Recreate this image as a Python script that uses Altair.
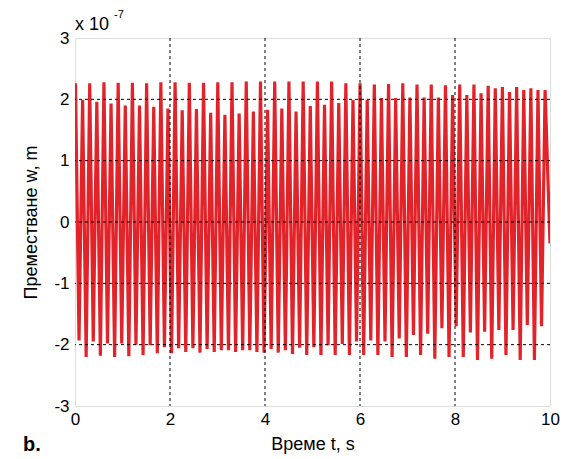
import altair as alt
import pandas as pd

# Displacement values, in units of 1e-7 m
T_START = 0.01          # s, time of the first peak
HALF_PERIOD = 0.0749    # s, spacing between successive peak and trough
START_VALUE = 2.1
PEAKS = [2.26, 1.99, 2.26, 1.96, 2.28, 1.93, 2.27, 1.90, 2.27, 1.90,
         2.26, 1.88, 2.28, 1.85, 2.28, 1.82, 2.27, 1.84, 2.27, 1.78,
         2.28, 1.75, 2.28, 1.77, 2.29, 1.80, 2.29, 1.83, 2.29, 1.85,
         2.29, 1.80, 2.29, 1.89, 2.29, 1.91, 2.29, 1.94, 2.26, 1.99,
         2.26, 1.99, 2.24, 2.02, 2.25, 2.02, 2.26, 2.03, 2.24, 2.03,
         2.24, 2.03, 2.23, 2.07, 2.24, 2.07, 2.24, 2.10, 2.22, 2.18,
         2.20, 2.12, 2.20, 2.15, 2.18, 2.15, 2.15]
TROUGHS = [-1.93, -2.20, -1.95, -2.18, -1.98, -2.20, -1.98, -2.19, -2.00, -2.17,
           -2.01, -2.14, -2.04, -2.14, -2.06, -2.12, -2.06, -2.13, -2.07, -2.12,
           -2.09, -2.09, -2.12, -2.09, -2.09, -2.12, -2.13, -2.07, -2.13, -2.09,
           -2.15, -2.05, -2.17, -2.04, -2.17, -2.01, -2.17, -1.99, -2.17, -1.95,
           -2.17, -1.93, -2.17, -1.95, -2.20, -1.90, -2.20, -1.84, -2.17, -1.82,
           -2.23, -1.73, -2.20, -1.70, -2.20, -1.80, -2.25, -1.79, -2.23, -1.76,
           -2.17, -1.76, -2.25, -1.68, -2.25, -1.70]
END_T = 10.0
END_VALUE = -0.35

X_TICKS = [0, 2, 4, 6, 8, 10]
Y_TICKS = [-3, -2, -1, 0, 1, 2, 3]
GRID_X = [2, 4, 6, 8]
GRID_Y = [-2, -1, 0, 1, 2]

rows = [{"t": 0.0, "w": START_VALUE}]
for k, p in enumerate(PEAKS):
    rows.append({"t": T_START + 2 * k * HALF_PERIOD, "w": p})
    if k < len(TROUGHS):
        rows.append({"t": T_START + (2 * k + 1) * HALF_PERIOD, "w": TROUGHS[k]})
rows.append({"t": END_T, "w": END_VALUE})
df = pd.DataFrame(rows)

FONT = "Liberation Sans"

xscale = alt.Scale(domain=[0, 10], nice=False, zero=False)
yscale = alt.Scale(domain=[-3, 3], nice=False, zero=False)

x_axis = alt.Axis(values=X_TICKS, labelExpr="toString(datum.value)", grid=False,
                  domain=False, ticks=False,
                  labelFontSize=17, labelColor="black", labelFont=FONT,
                  labelPadding=5, title="Време t, s", titleFont=FONT,
                  titleFontSize=18, titleFontWeight="normal", titleColor="black",
                  titlePadding=8, labelFlush=False)
y_axis = alt.Axis(values=Y_TICKS, labelExpr="toString(datum.value)", grid=False,
                  domain=False, ticks=False,
                  labelFontSize=17, labelColor="black", labelFont=FONT,
                  labelPadding=6, title="Преместване w, m", titleFont=FONT,
                  titleFontSize=18, titleFontWeight="normal", titleColor="black",
                  titlePadding=13, labelFlush=False)

line = alt.Chart(df).mark_line(color="#e2242a", strokeWidth=3.2, clip=True).encode(
    x=alt.X("t:Q", scale=xscale, axis=x_axis),
    y=alt.Y("w:Q", scale=yscale, axis=y_axis),
)

gx = alt.Chart(pd.DataFrame({"g": GRID_X})).mark_rule(
    color="black", strokeWidth=1, strokeDash=[3, 3]).encode(x=alt.X("g:Q", scale=xscale))
gy = alt.Chart(pd.DataFrame({"g": GRID_Y})).mark_rule(
    color="black", strokeWidth=1, strokeDash=[3, 3]).encode(y=alt.Y("g:Q", scale=yscale))

exp_base = alt.Chart(pd.DataFrame({"s": ["x 10"]})).mark_text(
    align="left", baseline="alphabetic", fontSize=18, font=FONT, color="black"
).encode(text="s:N", x=alt.value(0), y=alt.value(-8))
exp_sup = alt.Chart(pd.DataFrame({"s": ["-7"]})).mark_text(
    align="left", baseline="alphabetic", fontSize=11, font=FONT, color="black"
).encode(text="s:N", x=alt.value(39), y=alt.value(-20))
panel = alt.Chart(pd.DataFrame({"s": ["b."]})).mark_text(
    align="left", baseline="alphabetic", fontSize=20, fontWeight="bold", font=FONT, color="black"
).encode(text="s:N", x=alt.value(-52), y=alt.value(413))

chart = alt.layer(line, gx, gy, exp_base, exp_sup, panel).properties(
    width=475, height=368,
    autosize=alt.AutoSizeParams(type="none"),
    padding={"left": 67, "top": 30, "right": 11, "bottom": 50},
).configure_view(stroke="black", strokeWidth=1).configure(background="white")

chart.save("out.html", embed_options={"renderer": "svg", "actions": False})
